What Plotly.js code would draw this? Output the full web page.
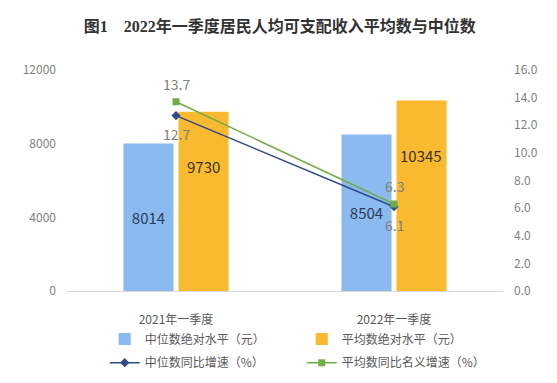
<!DOCTYPE html>
<html>
<head>
<meta charset="utf-8">
<script src="https://cdn.plot.ly/plotly-3.0.1.min.js"></script>
<style>html,body{margin:0;padding:0;background:#fff;}#chart{width:557px;height:383px;}</style>
</head>
<body>
<div id="chart"></div>
<script>
const categories = ['2021年一季度', '2022年一季度'];
const medianLevel = [8014, 8504];
const meanLevel = [9730, 10345];
const medianGrowth = [12.7, 6.1];
const meanGrowth = [13.7, 6.3];
const leftTicks = [0, 4000, 8000, 12000];

const seriesNames = ['中位数绝对水平（元）', '平均数绝对水平（元）', '中位数同比增速（%）', '平均数同比名义增速（%）'];

const FONT = '"Noto Sans CJK SC", "Noto Sans", sans-serif';

const traces = [
  {
    type: 'bar', name: seriesNames[0], x: categories, y: medianLevel,
    marker: {color: '#8bbaf0'},
    text: medianLevel.map(String), textposition: 'inside', insidetextanchor: 'middle',
    textfont: {color: '#2b3a55', size: 15, family: FONT},
    hoverinfo: 'none', legend: 'legend'
  },
  {
    type: 'bar', name: seriesNames[1], x: categories, y: meanLevel,
    marker: {color: '#f9ba30'},
    hoverinfo: 'none', legend: 'legend'
  },
  {
    type: 'scatter', mode: 'lines+markers', name: seriesNames[2], x: categories, y: medianGrowth,
    yaxis: 'y2', line: {color: '#2e4a8c', width: 1.5},
    marker: {symbol: 'diamond', size: 7, color: '#2e4a8c'},
    hoverinfo: 'none', legend: 'legend2'
  },
  {
    type: 'scatter', mode: 'lines+markers', name: seriesNames[3], x: categories, y: meanGrowth,
    yaxis: 'y2', line: {color: '#70ad47', width: 1.5},
    marker: {symbol: 'square', size: 7, color: '#70ad47'},
    hoverinfo: 'none', legend: 'legend2'
  }
];

const annotations = [];
categories.forEach((c, i) => {
  annotations.push({
    x: c, y: meanLevel[i], xref: 'x', yref: 'y', text: String(meanLevel[i]),
    showarrow: false, yshift: -55, xshift: 27,
    font: {color: '#3a3320', size: 15, family: FONT}
  });
  annotations.push({
    x: c, y: meanGrowth[i], xref: 'x', yref: 'y2', text: meanGrowth[i].toFixed(1),
    showarrow: false, yshift: 18,
    font: {color: '#7f7f7f', size: 14, family: FONT}
  });
  annotations.push({
    x: c, y: medianGrowth[i], xref: 'x', yref: 'y2', text: medianGrowth[i].toFixed(1),
    showarrow: false, yshift: -18,
    font: {color: '#7f7f7f', size: 14, family: FONT}
  });
});

const legendBase = {
  orientation: 'h', xref: 'container', yref: 'container',
  x: 0.188, xanchor: 'left', yanchor: 'top',
  entrywidth: 152, entrywidthmode: 'pixels',
  font: {family: FONT, size: 12, color: '#595959'},
  traceorder: 'normal', itemwidth: 30, bgcolor: 'rgba(0,0,0,0)'
};

const layout = {
  width: 557, height: 383,
  paper_bgcolor: '#fff', plot_bgcolor: '#fff',
  margin: {l: 67, r: 54, t: 70, b: 92},
  title: {
    text: '<b>图1　2022年一季度居民人均可支配收入平均数与中位数</b>',
    font: {family: '"Liberation Serif", "Noto Sans CJK SC", serif', size: 16, color: '#333333'},
    x: 0.488, xanchor: 'center', y: 0.93, yanchor: 'middle', xref: 'paper'
  },
  barmode: 'group', bargap: 0.495, bargroupgap: 0.09,
  showlegend: true,
  legend: Object.assign({}, legendBase, {y: 0.153}),
  legend2: Object.assign({}, legendBase, {y: 0.091}),
  xaxis: {
    type: 'category', range: [-0.5, 1.5],
    showline: true, linecolor: '#d9d9d9', linewidth: 1,
    ticks: '', showgrid: false, zeroline: false,
    ticklabelstandoff: 18,
    tickfont: {family: FONT, size: 12, color: '#595959'}
  },
  yaxis: {
    range: [0, 12000], tickvals: leftTicks, ticktext: leftTicks.map(String),
    showgrid: false, zeroline: false, showline: false, ticks: '',
    ticklabelstandoff: 10,
    tickfont: {family: FONT, size: 12, color: '#7f7f7f'}
  },
  yaxis2: {
    overlaying: 'y', side: 'right', range: [0, 16], dtick: 2, tickformat: '.1f',
    showgrid: false, zeroline: false, showline: false, ticks: '',
    ticklabelstandoff: 10,
    tickfont: {family: FONT, size: 12, color: '#7f7f7f'}
  },
  annotations: annotations
};

Plotly.newPlot('chart', traces, layout, {displayModeBar: false, staticPlot: true});
</script>
</body>
</html>
